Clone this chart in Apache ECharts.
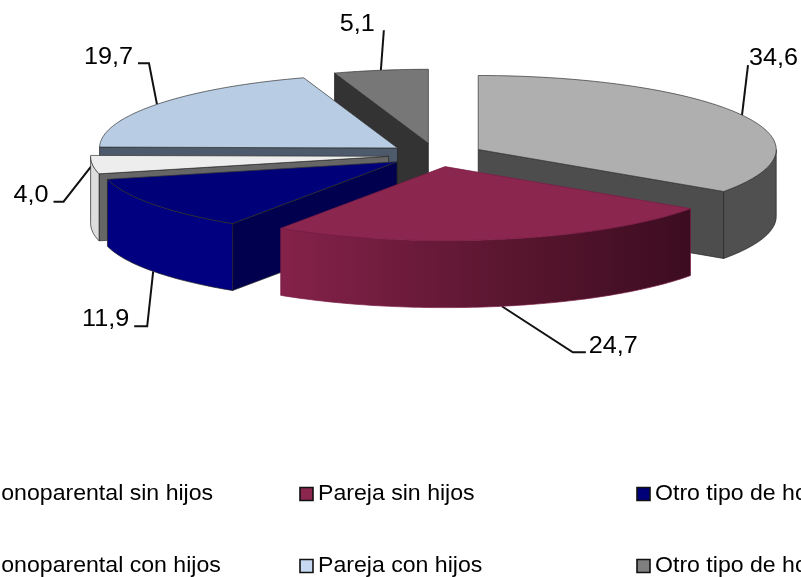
<!DOCTYPE html>
<html>
<head>
<meta charset="utf-8">
<style>
  html, body { margin: 0; padding: 0; background: #fff; overflow: hidden; }
  #chart { width: 801px; height: 577px; }
</style>
<script src="https://cdn.jsdelivr.net/npm/echarts@6/dist/echarts.min.js"></script>
</head>
<body>
<div id="chart"></div>
<script>
// datos, en el orden de las agujas del reloj desde arriba
const categories = ['Monoparental sin hijos', 'Pareja sin hijos', 'Otro tipo de hogar sin hijos',
  'Monoparental con hijos', 'Pareja con hijos', 'Otro tipo de hogar con hijos']
const values = [34.6, 24.7, 11.9, 4.0, 19.7, 5.1]
const valueLabels = ['34,6', '24,7', '11,9', '4,0', '19,7', '5,1']

// colores: cara superior, caras de corte, pared exterior
const topColors = ['#afafaf', '#8b264f', '#000078', '#ededed', '#b8cce4', '#777777']
const faceColors = ['#4d4d4d', '#3c0c20', '#00004e', '#666666', '#4d5a6b', '#333333']
const wallColors = ['#505050', null, '#000080', '#dddddd', '#4d5a6b', '#333333']
const legendColors = ['#afafaf', '#8b264f', '#000078', '#ededed', '#c6d9f1', '#7f7f7f']

// geometria de la tarta
const cx = 436, cy = 155, rx = 298, ry = 74, depth = 67, explode = 0.16

// lineas guia: codo, final y texto, relativos al borde del sector
const leaders = [
  {bend: [6, -50], end: [6, -50], text: [7, -57], align: 'left'},
  {bend: [71, 46], end: [84, 46], text: [87, 40], align: 'left'},
  {bend: [-6, 55], end: [-19, 55], text: [-24, 48], align: 'right'},
  {bend: [-29, 37], end: [-39, 37], text: [-44, 31], align: 'right'},
  {bend: [-8, -41], end: [-19, -41], text: [-24, -47], align: 'right'},
  {bend: [3, -40], end: [3, -40], text: [-6, -46], align: 'right'}
]

const total = values.reduce((a, b) => a + b, 0)
const slices = []
let acc = 0
values.forEach((v, i) => {
  const start = acc / total * Math.PI * 2
  acc += v
  const end = acc / total * Math.PI * 2
  const mid = (start + end) / 2
  slices.push({
    i, start, end, mid,
    ox: cx + explode * rx * Math.sin(mid),
    oy: cy - explode * ry * Math.cos(mid)
  })
})

function rim(s, t) {
  return [s.ox + rx * Math.sin(t), s.oy - ry * Math.cos(t)]
}

function arcPoints(s, from, to) {
  const pts = []
  const n = Math.max(2, Math.ceil(Math.abs(to - from) * rx / 6))
  for (let k = 0; k <= n; k++) {
    pts.push(rim(s, from + (to - from) * k / n))
  }
  return pts
}

function poly(points, fill, stroke) {
  return {
    type: 'polygon',
    shape: {points: points},
    style: {fill: fill, stroke: stroke, lineWidth: 0.7}
  }
}

function renderSlice(params, api) {
  const s = slices[api.value(0)]
  const i = s.i
  const apex = [s.ox, s.oy]
  const children = []
  const down = p => [p[0], p[1] + depth]

  // caras de corte: solo las que miran al observador
  if (Math.sin(s.start) < -0.001) {
    const p = rim(s, s.start)
    children.push(poly([apex, p, down(p), down(apex)], faceColors[i], '#222'))
  }
  if (Math.sin(s.end) > 0.001) {
    const p = rim(s, s.end)
    children.push(poly([apex, p, down(p), down(apex)], faceColors[i], '#222'))
  }

  // pared exterior: solo la mitad delantera se ve
  const wallFrom = Math.max(s.start, Math.PI / 2)
  const wallTo = Math.min(s.end, Math.PI * 1.5)
  if (wallTo > wallFrom) {
    const arc = arcPoints(s, wallFrom, wallTo)
    const wall = arc.concat(arc.slice().reverse().map(down))
    let fill = wallColors[i]
    if (i === 1) {
      const xs = arc.map(p => p[0])
      fill = new echarts.graphic.LinearGradient(
        Math.max.apply(null, xs), 0, Math.min.apply(null, xs), 0,
        [{offset: 0, color: '#3c0c20'}, {offset: 0.45, color: '#5a162f'}, {offset: 1, color: '#85224a'}], true)
    }
    children.push(poly(wall, fill, i === 1 ? '#7a1c45' : '#222'))
  }

  // cara superior
  children.push(poly([apex].concat(arcPoints(s, s.start, s.end)), topColors[i], i === 1 ? '#7a1c45' : '#333'))

  return {type: 'group', children: children}
}

function leaderGraphics() {
  const out = []
  slices.forEach(s => {
    const l = leaders[s.i]
    let p = rim(s, s.mid)
    // las guias de los sectores delanteros salen del borde inferior de la pared
    if (Math.cos(s.mid) < -0.3) p = [p[0], p[1] + depth]
    const bend = [p[0] + l.bend[0], p[1] + l.bend[1]]
    const end = [p[0] + l.end[0], p[1] + l.end[1]]
    out.push({
      type: 'polyline',
      shape: {points: [p, bend, end]},
      style: {stroke: '#111', lineWidth: 2, fill: 'none'}
    })
    out.push({
      type: 'text',
      x: p[0] + l.text[0],
      y: p[1] + l.text[1],
      scaleX: 1.05,
      style: {
        text: valueLabels[s.i],
        font: '24px "Liberation Sans", Arial, sans-serif',
        fill: '#000',
        align: l.align,
        verticalAlign: 'middle'
      }
    })
  })
  return out
}

function legendGraphics() {
  // tres columnas, dos filas, se salen del lienzo como en el original
  const colX = [-18, 318, 655]
  const rowY = [493, 565]
  const pos = [[0, 0], [1, 0], [2, 0], [0, 1], [1, 1], [2, 1]]
  const out = []
  categories.forEach((name, i) => {
    const x = colX[pos[i][0]]
    const y = rowY[pos[i][1]]
    out.push({
      type: 'rect',
      shape: {x: x - 18, y: y - 5.5, width: 13, height: 13},
      style: {fill: legendColors[i], stroke: '#111', lineWidth: 1.6}
    })
    out.push({
      type: 'text',
      x: x,
      y: y + 1,
      scaleX: 1.05,
      style: {
        text: name,
        font: '22px "Liberation Sans", Arial, sans-serif',
        fill: '#000',
        verticalAlign: 'middle'
      }
    })
  })
  return out
}

const myChart = echarts.init(document.getElementById('chart'))
const drawOrder = slices.slice().sort((a, b) => Math.cos(b.mid) - Math.cos(a.mid)).map(s => s.i)

myChart.setOption({
  animation: false,
  backgroundColor: '#fff',
  graphic: {elements: leaderGraphics().concat(legendGraphics()).map(e => Object.assign(e, {silent: true}))},
  series: [{
    type: 'custom',
    coordinateSystem: 'none',
    renderItem: renderSlice,
    data: drawOrder.map(i => ({value: [i, values[i]], name: categories[i]}))
  }]
})
</script>
</body>
</html>
